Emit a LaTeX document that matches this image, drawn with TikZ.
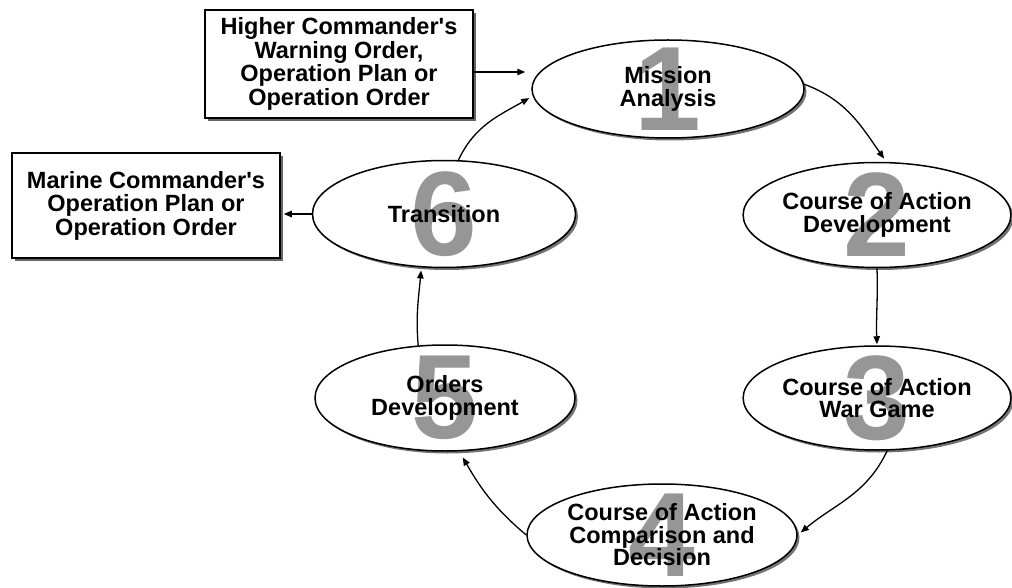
\documentclass[tikz,border=0pt]{standalone}
\usepackage{fontspec}
\setmainfont{Liberation Sans}
\usetikzlibrary{shapes.geometric,arrows.meta,shadows}
\definecolor{numgray}{RGB}{150,150,150}
\begin{document}
\begin{tikzpicture}[x=1pt,y=1pt,
  stage/.style={ellipse, draw, line width=1.5pt, fill=white, inner sep=0pt, align=center,
    font=\fontsize{23.5}{22.5}\selectfont\bfseries,
    drop shadow={shadow xshift=2.5pt, shadow yshift=-2.5pt, opacity=0.55, fill=black}},
  bignum/.style={path picture={\node[text=numgray, inner sep=0pt,
    font=\fontsize{120}{120}\selectfont\bfseries] at (path picture bounding box.center) {#1};}},
  docbox/.style={rectangle, draw, line width=1.5pt, fill=white, align=center, inner sep=0pt,
    font=\fontsize{23.5}{23.5}\selectfont\bfseries,
    drop shadow={shadow xshift=3pt, shadow yshift=-3pt, opacity=0.6, fill=black}},
  arr/.style={line width=1.3pt, -{Triangle[length=8pt,width=6.5pt]}}
]
\useasboundingbox (0,0) rectangle (1012,-588);

\node[docbox, minimum width=268, minimum height=108] (b1) at (339,-64)
  {Higher Commander\textquotesingle s\\Warning Order,\\Operation Plan or\\Operation Order};
\node[docbox, minimum width=268, minimum height=105] (b2) at (146,-205.5)
  {Marine Commander\textquotesingle s\\Operation Plan or\\Operation Order};

\node[stage, bignum=1, minimum width=272, minimum height=98] (e1) at (668,-89) {Mission\\Analysis};
\node[stage, bignum=2, minimum width=264, minimum height=105] (e2) at (877,-215) {Course of Action\\Development};
\node[stage, bignum=3, minimum width=264, minimum height=104] (e3) at (877,-398) {Course of Action\\War Game};
\node[stage, bignum=4, minimum width=270, minimum height=102] (e4) at (662,-535) {Course of Action\\Comparison and\\Decision};
\node[stage, bignum=5, minimum width=260, minimum height=106] (e5) at (445,-398) {Orders\\Development};
\node[stage, bignum=6, minimum width=263, minimum height=107] (e6) at (444,-214) {Transition};

\draw[arr, shorten >=6pt] ([yshift=-8pt]b1.east) -- ([yshift=-8pt]b1.east -| e1.west);
\draw[arr, shorten >=4pt] (e6.75) to[out=65,in=210] (e1.183);
\draw[arr, shorten >=4pt] (e1.2) to[out=-20,in=125] (e2.80);
\draw[arr, shorten >=1pt] (e2.south) to[out=-88,in=92] (e3.north);
\draw[arr, shorten >=4pt] (e3.-79) to[out=-115,in=40] (e4.east);
\draw[arr, shorten >=7pt] (e4.west) to[out=140,in=-60] (e5.-75);
\draw[arr, shorten >=3pt] (e5.117) to[out=95,in=-95] (e6.-113);
\draw[arr, shorten >=3pt] (e6.west) -- (e6.west -| b2.east);
\end{tikzpicture}
\end{document}
